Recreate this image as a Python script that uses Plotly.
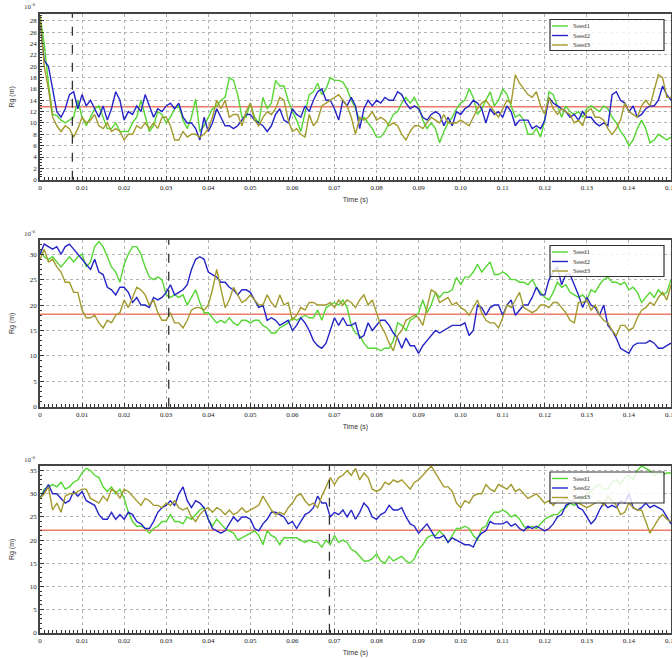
import plotly.graph_objects as go

# ---------------- data ----------------
time_s = [round(i * 0.001, 3) for i in range(151)]

p1_seed1 = [29, 24, 17, 11.5, 11.3, 10.5, 10, 10.5, 11, 14,
            11, 9.5, 11, 12.5, 13, 11, 9, 9, 10, 8.5,
            8.5, 8.5, 10, 11, 14, 11, 8.5, 9.5, 12, 11.5,
            10, 11, 12.5, 13, 10.5, 9, 11, 14.2, 8.5, 9.5,
            11, 12.5, 13, 14, 14.5, 18, 17.5, 15, 11, 11,
            13.5, 11, 10, 14.5, 12.5, 13.5, 17.5, 16.5, 16.5, 14,
            12, 10.5, 8.5, 12, 15, 15.5, 17, 15, 16, 18,
            17.5, 17.5, 17.2, 16, 14, 12.5, 10.5, 11, 10, 9,
            7.5, 7.5, 8.5, 10, 11.5, 12, 13.5, 14.5, 13.5, 14.5,
            13, 10.5, 9, 10, 9, 6.5, 8.5, 10, 11, 12.5,
            13.5, 14, 16, 14.5, 11.5, 12.5, 14, 15.5, 13, 14,
            16, 15, 13, 11, 11.5, 10.5, 8, 8, 9, 7.5,
            10.5, 15.5, 15, 13, 11, 13, 12, 11.5, 12, 11,
            12.5, 13, 12.5, 12, 13, 12.5, 11, 10, 8.5, 7.5,
            6, 7, 9, 10.5, 9, 6.5, 7, 8, 7.5, 7,
            7.5]
p1_seed2 = [28, 21, 20, 16, 12, 11, 12.5, 15, 15.5, 12.5,
            15, 13, 14, 12.5, 11, 13, 10.5, 12.5, 15.5, 14,
            10.5, 12, 11.5, 13, 12, 15, 13, 11, 12.5, 12,
            13, 13.5, 12.5, 13.5, 11, 10, 10, 9, 7, 11,
            8.5, 10, 12.5, 11, 9.5, 9.5, 9, 9.5, 10.5, 11.5,
            11.5, 10.5, 10, 9.5, 8.5, 9.5, 11.5, 12.5, 10.5, 10,
            12.5, 11.5, 11, 13, 12, 14, 15.5, 16, 14, 14,
            12.5, 10.5, 14, 13, 14.5, 13, 9, 12.5, 14, 13,
            14, 13.5, 14.5, 14, 14, 15.5, 15, 13.5, 12.5, 13,
            12.5, 11, 10.5, 11.5, 12, 11.5, 9.5, 11, 9.5, 12,
            11.5, 12.5, 13, 14, 13.5, 12.5, 10, 12.5, 11.5, 12,
            11, 13, 12, 9.5, 10.5, 10.5, 10.5, 9, 9.5, 9,
            10.5, 14.5, 13.5, 13, 12.5, 12, 11, 11.5, 10.5, 12,
            11, 11, 10, 9.5, 10, 9.5, 15, 15.5, 14, 13.5,
            12, 13, 11, 11.5, 12.5, 13, 13, 14, 16.5, 15,
            14]
p1_seed3 = [29, 20, 16, 11, 9.5, 8.5, 9.5, 9, 7.5, 9,
            11, 10, 10.5, 11.5, 9.5, 9, 10, 8.5, 9, 8.5,
            7, 8, 8, 9.5, 9, 10, 9, 10, 9, 11,
            11, 9.5, 7, 7, 8.5, 7.5, 8, 8, 7.5, 8,
            9, 11, 14, 12.5, 14, 11, 11.5, 11.5, 9.5, 12,
            13.5, 10.5, 9.5, 11, 12, 11.5, 12.5, 14.5, 14, 10.5,
            8.5, 9, 8, 7.5, 11.5, 9.5, 10.5, 13, 13.5, 14,
            14.5, 15, 14, 13, 11, 8, 11, 10.5, 11, 12,
            10.5, 11, 10.5, 9.5, 10, 9.5, 8, 7, 8.5, 9.5,
            9.5, 9, 10, 11, 10.5, 10, 11.5, 10, 10, 10,
            10.5, 10, 9.5, 11, 12.5, 13.5, 14, 13, 12, 11,
            12.5, 14, 13.5, 18.5, 17, 16, 15, 14.5, 15.5, 13,
            11.5, 14.5, 12.5, 11.5, 12.5, 12, 11.5, 10, 10.5, 9.5,
            12, 12.5, 11, 11, 10.5, 9, 8, 9, 10.5, 13.5,
            12, 11.5, 11, 13, 14, 13, 16, 18.5, 18, 14.5,
            14.5]

p2_seed1 = [31, 29.5, 29, 29.5, 28.5, 27.5, 28.5, 29.5, 28.5, 29.5,
            30, 27.5, 28.5, 31.5, 32.5, 31.5, 29.5, 27.5, 26.5, 24.5,
            28, 30, 31.5, 31.5, 30, 27.5, 25.5, 25, 25.5, 25,
            22, 21.5, 22, 21.5, 22, 20, 21.5, 23, 20.5, 18.5,
            18.5, 17.5, 16.5, 17, 16.5, 17.5, 16.5, 16, 17, 17,
            16.5, 17, 17, 16, 15.5, 14.5, 14.5, 15.5, 16, 16.5,
            17.5, 17, 17.5, 18, 17.5, 17.5, 19, 17, 19.5, 20,
            20.5, 20, 21, 19.5, 16, 14.5, 14, 12.5, 11.5, 11.5,
            11.5, 11, 11.5, 11.5, 13, 16.5, 16, 15, 17, 17.5,
            18.5, 21, 18.5, 20, 22.5, 21.5, 22.5, 22.5, 23, 25.5,
            24, 25.5, 25.5, 26.5, 28, 26.5, 27.5, 28.5, 26, 26,
            26.5, 26, 25, 25, 24.5, 24.5, 24, 25, 23.5, 22.5,
            21.5, 21, 22.5, 24.5, 23.5, 24, 22.5, 22, 21.5, 22,
            21, 23, 22.5, 24, 25, 25.5, 24.5, 24.5, 24, 24.5,
            23, 23.5, 22.5, 20.5, 21.5, 22.5, 21.5, 23, 22, 22.5,
            25]
p2_seed2 = [30, 32, 31.5, 31, 31.5, 30, 31.5, 32, 31, 30,
            29, 28, 27, 29, 26.5, 26, 23.5, 23, 22, 23.5,
            23.5, 22.5, 20.5, 21.5, 20, 20, 19.5, 21.5, 21, 21.5,
            22.5, 24, 22, 22.5, 23, 24, 27, 29, 29.5, 29,
            26.5, 26, 25.5, 24.5, 24.5, 23.5, 23, 22, 23, 23,
            22.5, 21, 19.5, 20, 17, 17.5, 17, 16, 16.5, 17,
            15, 16, 17.5, 16.5, 15, 13, 12, 11.5, 12.5, 15,
            17.5, 16, 17.5, 16, 16, 16.5, 13.5, 14, 16.5, 15,
            16, 17, 17, 16, 14.5, 13.5, 11.5, 13.5, 12, 12,
            10.5, 12, 13, 14, 15, 14.5, 15, 15.5, 16, 16,
            16, 16.5, 14, 15, 20, 19.5, 18, 19.5, 20, 20,
            18, 20, 21, 18, 19, 20, 20, 21.5, 23.5, 22,
            22, 25, 26.5, 27.5, 24, 26, 26, 24, 22, 19.5,
            21.5, 20, 19.5, 18, 20, 16, 15, 13.5, 11.5, 11,
            10.5, 12, 12.5, 12.5, 12.5, 13, 12.5, 11.5, 11.5, 12,
            12.5]
p2_seed3 = [29, 31, 28.5, 29, 27.5, 26.5, 24.5, 24.5, 22.5, 22.5,
            19, 17.5, 17.5, 18, 16.5, 15.5, 17, 16.5, 18, 18.5,
            21, 19.5, 21.5, 23.5, 23, 22, 20, 21, 18.5, 17,
            17, 18.5, 16.5, 16.5, 15.5, 17, 19, 19.5, 19.5, 19,
            20, 23, 27, 23.5, 19.5, 21, 23.5, 22, 20.5, 21,
            22, 21, 20, 20, 22, 20.5, 19.5, 22, 20, 20.5,
            17, 18, 19.5, 19, 20.5, 20.5, 20, 20, 20, 20.5,
            19.5, 21, 20, 21, 20.5, 19.5, 21, 22, 20, 21,
            18.5, 16, 14.5, 12.5, 11, 14, 15, 17, 17.5, 18,
            17.5, 16, 19.5, 23, 22.5, 20.5, 21, 21.5, 20, 20.5,
            19.5, 19, 18, 19.5, 21, 18.5, 17, 16.5, 16.5, 15.5,
            17.5, 20, 19.5, 21, 22.5, 19.5, 19, 18.5, 19, 20,
            20, 19.5, 20.5, 20.5, 19.5, 18.5, 17, 16.5, 20.5, 20.5,
            21, 19, 20, 18, 17, 16.5, 15, 14, 16, 16,
            15, 15.5, 17.5, 19, 19.5, 20.5, 20, 21.5, 22.5, 21,
            24]

p3_seed1 = [29, 31, 31.5, 32, 31.5, 32.5, 31, 31.5, 32.5, 33,
            34.5, 35.5, 35, 34, 33.5, 31.5, 30.5, 31.5, 30, 31,
            29, 26, 24, 23, 23, 22.5, 21.5, 22.5, 23, 24,
            24, 25.5, 24, 24, 23.5, 25, 24.5, 25.5, 26.5, 27,
            24.5, 23, 24.5, 23.5, 22.5, 22, 21.5, 20, 20.5, 21,
            21.5, 22, 21, 19, 22, 21, 20.5, 19, 20.5, 20.5,
            20.5, 20.5, 20, 19.5, 20, 19.5, 19.5, 18.5, 20, 19,
            21, 19.5, 20, 19.5, 18, 17.5, 16.5, 15.5, 15.5, 16,
            17, 15.5, 15, 16.5, 15.5, 16, 16.5, 15.5, 15, 16,
            18, 19, 20.5, 21, 21, 22, 21, 19.5, 21, 22.5,
            22.5, 23, 22.5, 21, 20, 22.5, 23, 25, 26, 26,
            26.5, 26, 25, 25.5, 24.5, 23, 22.5, 23, 22.5, 23.5,
            24.5, 25, 25.5, 25.5, 26.5, 27, 28, 27.5, 28, 29,
            30, 30.5, 31.5, 32, 31, 31, 32.5, 33, 32, 33.5,
            34, 33, 35, 36, 35.5, 35, 34, 34.5, 34, 34.5,
            34.5]
p3_seed2 = [29, 30.5, 32, 30, 30, 29, 28, 28.5, 30.5, 29.5,
            30.5, 28.5, 28, 27.5, 25.5, 24.5, 24.5, 26, 24.5, 25.5,
            24.5, 26, 25.5, 24, 23.5, 22.5, 22.5, 24, 26, 27,
            27.5, 28.5, 27.5, 30, 31.5, 28.5, 27, 28.5, 28, 27,
            24.5, 22.5, 22, 21.5, 22, 23.5, 25, 24, 25, 25,
            24.5, 22.5, 22, 23.5, 24.5, 26, 26, 25.5, 25, 23.5,
            24, 22.5, 24, 25.5, 26, 27, 29.5, 28, 28, 25,
            26, 25.5, 26.5, 25, 26.5, 24.5, 26, 28, 27, 25,
            24.5, 25.5, 26, 27.5, 26.5, 26.5, 27, 25, 23.5, 23,
            21.5, 22.5, 23.5, 22, 20.5, 20.5, 21, 19.5, 20.5, 20,
            19.5, 19, 19, 18.5, 20.5, 21.5, 22, 24, 23.5, 23.5,
            23.5, 24, 23, 23.5, 22.5, 22, 23, 22.5, 23, 22.5,
            22, 22.5, 23.5, 25, 25.5, 27.5, 28, 28.5, 27, 26.5,
            25, 23.5, 24.5, 26.5, 28, 27, 27.5, 27, 28.5, 28,
            30, 27, 26.5, 27, 28, 27, 27.5, 27, 26.5, 25,
            23.5]
p3_seed3 = [29, 30, 31.5, 26.5, 28, 26, 29.5, 30, 30, 30.5,
            31, 31, 29, 28.5, 28, 29.5, 28.5, 31, 30.5, 29,
            31, 30.5, 29.5, 28.5, 27.5, 29, 28.5, 27.5, 27.5, 27,
            28, 27.5, 28.5, 27, 26.5, 27, 25, 24, 25.5, 26.5,
            27, 26, 27, 26.5, 25.5, 26.5, 25.5, 26, 27, 26,
            26.5, 27, 27.5, 29.5, 28, 26.5, 25.5, 26, 25.5, 27,
            28, 29.5, 30, 28.5, 27.5, 28, 27, 29.5, 31.5, 33.5,
            32, 33.5, 34, 35, 34, 35.5, 33, 34.5, 33.5, 31,
            30.5, 31, 32.5, 32, 33, 32.5, 33, 32, 31, 32.5,
            33, 34, 35, 36, 34.5, 33, 31.5, 31.5, 30.5, 28,
            27, 28.5, 28, 29.5, 30, 30, 32, 31, 30.5, 32,
            31.5, 31, 32, 30.5, 31, 30, 29, 29.5, 30, 29,
            28, 28.5, 27.5, 28.5, 28.5, 29, 28.5, 28.5, 28, 27.5,
            27, 27.5, 28, 28.5, 27.5, 29.5, 28.5, 27.5, 25.5, 26,
            28, 27, 26.5, 26.5, 24, 21.5, 23, 24.5, 25.5, 24.5,
            24]

panels = [
    (p1_seed1, p1_seed2, p1_seed3),
    (p2_seed1, p2_seed2, p2_seed3),
    (p3_seed1, p3_seed2, p3_seed3),
]
series_names = ["Seed1", "Seed2", "Seed3"]
mean_levels = [12.85, 18.2, 22.1]          # red horizontal reference lines
marker_times = [0.0077, 0.0306, 0.0688]    # dashed vertical lines
y_ranges = [(0, 29.2), (0, 32.8), (0, 36.0)]
y_dticks = [2, 5, 5]
y_minor = [0.5, 1, 1]
x_tickvals = [round(i * 0.01, 2) for i in range(16)]
x_ticktext = ["0"] + ["%.2f" % v for v in x_tickvals[1:]]

# ---------------- style ----------------
colors = ["#55d633", "#2424c8", "#a39a2e"]
H = 658
W = 672
ML, MR = 40, 1
PW = W - ML - MR
panel_px = [(14, 179.7), (240, 406.7), (466, 632.7)]  # top, bottom in px
legend_box_px = [(19.5, 50.5), (245.5, 276.5), (472, 503)]
serif = "Liberation Serif, Times New Roman, serif"
sans = "Liberation Sans, Arial, sans-serif"


def px_x(p):
    return (p - ML) / PW


def px_y(p):
    return 1 - p / H


fig = go.Figure()
layout = dict(
    width=W, height=H,
    margin=dict(l=ML, r=MR, t=0, b=0),
    paper_bgcolor="white", plot_bgcolor="white",
    showlegend=False,
    shapes=[], annotations=[],
)

for k, series in enumerate(panels):
    ax = "" if k == 0 else str(k + 1)
    for name, vals, col in zip(series_names, series, colors):
        fig.add_trace(go.Scatter(
            x=time_s, y=vals, mode="lines", name=name,
            line=dict(color=col, width=1.4),
            xaxis="x" + ax, yaxis="y" + ax,
        ))
    top, bot = panel_px[k]
    dom = [1 - bot / H, 1 - top / H]
    layout["xaxis" + ax] = dict(
        domain=[0, 1], range=[0, 0.15], anchor="y" + ax,
        tickvals=x_tickvals, ticktext=x_ticktext, ticklabeloverflow="allow",
        ticks="inside", ticklen=4, tickcolor="#333",
        minor=dict(dtick=0.001, ticks="inside", ticklen=2.5, tickcolor="#333", showgrid=False),
        showgrid=True, gridcolor="#b4b4b4", griddash="dot", gridwidth=1,
        showline=True, linecolor="#444", linewidth=1.5, mirror=True,
        zeroline=False,
        tickfont=dict(family=serif, size=7, color="#222"),
        title=dict(text="Time (s)", font=dict(family=sans, size=7, color="#333"), standoff=6),
        automargin=False,
    )
    layout["yaxis" + ax] = dict(
        domain=dom, range=list(y_ranges[k]), anchor="x" + ax,
        dtick=y_dticks[k], tick0=0,
        ticks="inside", ticklen=4, tickcolor="#333",
        minor=dict(dtick=y_minor[k], ticks="inside", ticklen=2.5, tickcolor="#333", showgrid=False),
        showgrid=True, gridcolor="#b4b4b4", griddash="dot", gridwidth=1,
        showline=True, linecolor="#444", linewidth=1.5, mirror=True,
        zeroline=False,
        tickfont=dict(family=serif, size=7, color="#222"),
        title=dict(text="Rg (m)", font=dict(family=sans, size=7, color="#333"), standoff=14),
        automargin=False,
    )
    # red mean line and dashed marker line
    layout["shapes"].append(dict(
        type="line", xref="x%s domain" % ax, yref="y" + ax,
        x0=0, x1=1, y0=mean_levels[k], y1=mean_levels[k],
        line=dict(color="#f07a6a", width=1.5), layer="below",
    ))
    layout["shapes"].append(dict(
        type="line", xref="x" + ax, yref="y%s domain" % ax,
        x0=marker_times[k], x1=marker_times[k], y0=0, y1=1,
        line=dict(color="#333", width=1.3, dash="dash"), layer="above",
    ))
    # exponent label
    layout["annotations"].append(dict(
        text="10<sup>-6</sup>", xref="paper", yref="paper",
        x=px_x(22), y=px_y(top - 7), xanchor="left", yanchor="middle",
        showarrow=False, font=dict(family=serif, size=7, color="#333"),
    ))
    # legend box
    b0, b1 = legend_box_px[k]
    layout["shapes"].append(dict(
        type="rect", xref="paper", yref="paper",
        x0=px_x(550), x1=px_x(664), y0=px_y(b1), y1=px_y(b0),
        line=dict(color="#333", width=1.2), fillcolor="rgba(255,255,255,0.82)",
        layer="above",
    ))
    for j, (name, col) in enumerate(zip(series_names, colors)):
        yy = b0 + 6.5 + 9.5 * j
        layout["shapes"].append(dict(
            type="line", xref="paper", yref="paper",
            x0=px_x(552), x1=px_x(568), y0=px_y(yy), y1=px_y(yy),
            line=dict(color=col, width=1.4), layer="above",
        ))
        layout["annotations"].append(dict(
            text=name, xref="paper", yref="paper",
            x=px_x(571), y=px_y(yy), xanchor="left", yanchor="middle",
            showarrow=False, font=dict(family=serif, size=7, color="#333"),
        ))

fig.update_layout(**layout)
fig.write_html("out.html")
